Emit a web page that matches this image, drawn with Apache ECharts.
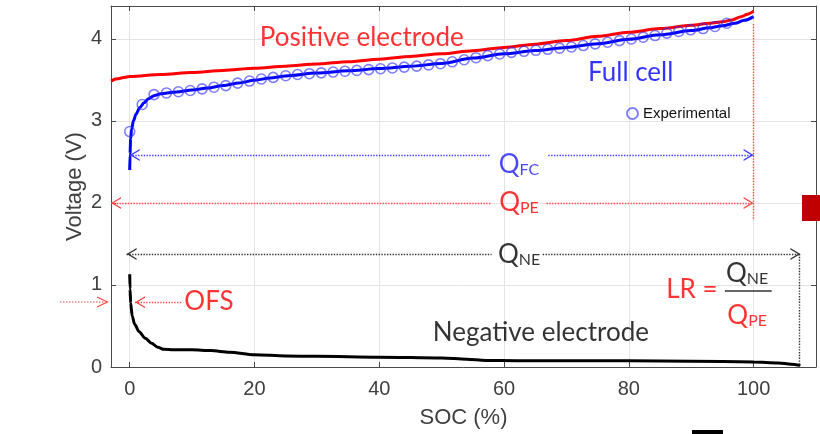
<!DOCTYPE html>
<html>
<head>
<meta charset="utf-8">
<script src="https://cdn.jsdelivr.net/npm/echarts@6/dist/echarts.min.js"></script>
<style>
  html, body { margin: 0; padding: 0; background: #fff; }
  #chart { width: 820px; height: 434px; }
</style>
</head>
<body>
<div id="chart"></div>
<script>
// axis ticks
var xTicks = [0, 20, 40, 60, 80, 100];
var yTicks = [0, 1, 2, 3, 4];

// positive electrode (model)
var posSoc = [-3, -2, -1, 0, 5, 10, 15, 20, 25, 30, 35, 40, 45, 50, 55, 60, 65, 70, 75, 80, 85, 90, 93, 95, 96.5, 98, 99, 100];
var posV = [3.485, 3.512, 3.528, 3.54, 3.565, 3.59, 3.615, 3.642, 3.667, 3.693, 3.722, 3.752, 3.785, 3.818, 3.855, 3.895, 3.935, 3.98, 4.03, 4.08, 4.125, 4.165, 4.19, 4.208, 4.23, 4.27, 4.3, 4.335];

// full cell (model)
var fcSoc = [0, 0.05, 0.15, 0.3, 0.6, 1.0, 1.6, 2.3, 3.0, 4.0, 5, 7.5, 10, 12.5, 15, 17.5, 20, 22.5, 25, 30, 35, 40, 45, 50, 55, 60, 65, 70, 75, 80, 85, 90, 93, 95, 97, 98.5, 100];
var fcV = [2.40, 2.6, 2.78, 2.9, 3.0, 3.08, 3.16, 3.22, 3.27, 3.31, 3.33, 3.353, 3.375, 3.40, 3.43, 3.462, 3.495, 3.522, 3.547, 3.582, 3.61, 3.637, 3.665, 3.70, 3.765, 3.818, 3.857, 3.895, 3.94, 3.995, 4.05, 4.1, 4.135, 4.16, 4.19, 4.225, 4.27];

// full cell (experimental)
var expSoc = [0, 2.0, 3.9, 5.9, 7.8, 9.7, 11.6, 13.5, 15.4, 17.3, 19.2, 21.1, 23.0, 25.0, 26.9, 28.8, 30.7, 32.6, 34.5, 36.4, 38.3, 40.2, 42.1, 44.0, 46.0, 47.9, 49.8, 51.7, 53.6, 55.5, 57.4, 59.3, 61.2, 63.2, 65.1, 67.0, 68.9, 70.8, 72.7, 74.6, 76.6, 78.5, 80.4, 82.3, 84.2, 86.1, 88.0, 89.9, 91.9, 93.8, 95.7];
var expV = [2.87, 3.20, 3.32, 3.34, 3.355, 3.37, 3.39, 3.41, 3.43, 3.46, 3.485, 3.51, 3.53, 3.55, 3.565, 3.575, 3.585, 3.595, 3.605, 3.615, 3.625, 3.635, 3.645, 3.655, 3.667, 3.682, 3.697, 3.72, 3.745, 3.77, 3.795, 3.815, 3.835, 3.848, 3.86, 3.872, 3.886, 3.9, 3.918, 3.938, 3.958, 3.978, 3.998, 4.02, 4.04, 4.07, 4.09, 4.11, 4.125, 4.15, 4.19];

// negative electrode (model)
var negSoc = [0, 0.05, 0.15, 0.4, 0.8, 1.5, 2.5, 3.5, 4.5, 5.5, 7, 10, 13, 16, 20, 25, 30, 40, 50, 54, 57, 62, 70, 80, 90, 100, 104, 106, 107.5];
var negV = [1.13, 0.95, 0.78, 0.62, 0.52, 0.43, 0.35, 0.29, 0.24, 0.215, 0.21, 0.21, 0.20, 0.18, 0.15, 0.135, 0.13, 0.12, 0.11, 0.095, 0.08, 0.077, 0.077, 0.075, 0.07, 0.062, 0.05, 0.035, 0.02];

function pairs(xs, ys) {
  return xs.map(function (x, i) { return [x, ys[i]]; });
}

var chevron = 'path://M0,0 L6,10 L4.5,10 L0,2.5 L-4.5,10 L-6,10 Z';

// one guide segment, arrow heads optional at each end
function guide(a, b, arrowA, arrowB, style) {
  return [
    { coord: a, symbol: arrowA ? chevron : 'none', symbolSize: [12, 10], symbolOffset: [0, 5], lineStyle: style },
    { coord: b, symbol: arrowB ? chevron : 'none', symbolSize: [12, 10], symbolOffset: [0, 5] }
  ];
}

function guides(color, lines) {
  return {
    silent: true,
    animation: false,
    label: { show: false },
    emphasis: { disabled: true },
    lineStyle: { color: color, type: 'dotted', width: 1.4 },
    data: lines
  };
}

var axisColor = '#4a4a4a';
var tickText = { fontFamily: 'Liberation Sans', fontSize: 20, color: '#404040' };
var rich = {
  q: { fontFamily: 'Lato', fontSize: 26, lineHeight: 30, verticalAlign: 'bottom' },
  s: { fontFamily: 'Lato', fontSize: 16, lineHeight: 14, verticalAlign: 'bottom' }
};

function note(x, y, text, color) {
  return {
    value: [x, y],
    label: { show: true, position: 'inside', formatter: text, color: color, fontFamily: 'Lato', fontSize: 26, rich: rich }
  };
}

var chart = echarts.init(document.getElementById('chart'));

var option = {
  animation: false,
  grid: { left: 111, right: 4, top: 6, bottom: 67 },
  legend: {
    data: ['Experimental'],
    left: 621,
    top: 101,
    itemWidth: 11,
    itemHeight: 11,
    textStyle: { fontFamily: 'Liberation Sans', fontSize: 15, color: '#111' }
  },
  xAxis: [
    {
      type: 'value', min: -3, max: 110, position: 'bottom',
      name: 'SOC (%)', nameLocation: 'middle', nameGap: 40, nameMoveOverlap: false,
      nameTextStyle: { fontFamily: 'Liberation Sans', fontSize: 22, color: '#404040' },
      axisLine: { show: true, onZero: false, lineStyle: { color: axisColor, width: 1 } },
      axisTick: { show: true, inside: true, length: 5, customValues: xTicks, lineStyle: { color: axisColor } },
      axisLabel: Object.assign({ customValues: xTicks, margin: 12 }, tickText),
      splitLine: { show: true, lineStyle: { color: '#e4e4e4', width: 1 } }
    },
    {
      type: 'value', min: -3, max: 110, position: 'top',
      axisLine: { show: true, onZero: false, lineStyle: { color: axisColor, width: 1 } },
      axisTick: { show: true, inside: true, length: 5, customValues: xTicks, lineStyle: { color: axisColor } },
      axisLabel: { show: false },
      splitLine: { show: false }
    }
  ],
  yAxis: [
    {
      type: 'value', min: 0, max: 4.4, position: 'left',
      name: 'Voltage (V)', nameLocation: 'middle', nameGap: 25, nameMoveOverlap: false,
      nameTextStyle: { fontFamily: 'Liberation Sans', fontSize: 22, color: '#404040' },
      axisLine: { show: true, onZero: false, lineStyle: { color: axisColor, width: 1 } },
      axisTick: { show: true, inside: true, length: 5, customValues: yTicks, lineStyle: { color: axisColor } },
      axisLabel: Object.assign({ customValues: yTicks, margin: 9 }, tickText),
      splitLine: { show: true, lineStyle: { color: '#e4e4e4', width: 1 } }
    },
    {
      type: 'value', min: 0, max: 4.4, position: 'right',
      axisLine: { show: true, onZero: false, lineStyle: { color: axisColor, width: 1 } },
      axisTick: { show: true, inside: true, length: 5, customValues: yTicks, lineStyle: { color: axisColor } },
      axisLabel: { show: false },
      splitLine: { show: false }
    }
  ],
  series: [
    {
      name: 'Positive electrode',
      type: 'line',
      data: pairs(posSoc, posV),
      showSymbol: false,
      smooth: 0.3,
      smoothMonotone: 'x',
      lineStyle: { color: '#ff0000', width: 3 },
      itemStyle: { color: '#ff0000' },
      markLine: guides('#ff4a4a', [
        guide([-3, 2.0], [57.8, 2.0], true, false),
        guide([66.8, 2.0], [100, 2.0], false, true),
        guide([100, 4.18], [100, 1.79], false, false),
        guide([0.85, 0.79], [8.3, 0.79], true, false)
      ])
    },
    {
      name: 'Full cell',
      type: 'line',
      data: pairs(fcSoc, fcV),
      showSymbol: false,
      smooth: 0.3,
      smoothMonotone: 'x',
      lineStyle: { color: '#0000ff', width: 3 },
      itemStyle: { color: '#0000ff' },
      markLine: guides('#3c3cff', [
        guide([0, 2.584], [57.8, 2.584], true, false),
        guide([67.1, 2.584], [100, 2.584], false, true)
      ])
    },
    {
      name: 'Experimental',
      type: 'scatter',
      data: pairs(expSoc, expV),
      symbol: 'circle',
      symbolSize: 10,
      itemStyle: { color: 'rgba(0,0,0,0)', borderColor: 'rgba(40,40,255,0.75)', borderWidth: 1.6 },
      z: 3
    },
    {
      name: 'Negative electrode',
      type: 'line',
      data: pairs(negSoc, negV),
      showSymbol: false,
      smooth: 0.3,
      smoothMonotone: 'x',
      lineStyle: { color: '#000000', width: 3 },
      itemStyle: { color: '#000000' },
      markLine: guides('#333333', [
        guide([-0.5, 1.377], [58, 1.377], true, false),
        guide([66.2, 1.377], [107.5, 1.377], false, true),
        guide([107.3, 1.377], [107.3, 0.03], false, false),
        guide([95.4, 0.926], [102.9, 0.926], false, false, { type: 'solid', width: 1.6, color: '#333333' })
      ])
    },
    {
      name: 'notes',
      type: 'scatter',
      symbolSize: 0,
      silent: true,
      z: 6,
      data: [
        note(37.2, 4.016, 'Positive electrode', '#ff0000'),
        note(80.3, 3.583, 'Full cell', '#0000ff'),
        note(65.9, 0.414, 'Negative electrode', '#000000'),
        note(12.7, 0.792, 'OFS', '#ff0000'),
        note(90.1, 0.938, 'LR =', '#ff0000'),
        note(62.4, 2.486, '{q|Q}{s|FC}', '#1a1aff'),
        note(62.4, 2.023, '{q|Q}{s|PE}', '#ff0000'),
        note(62.4, 1.389, '{q|Q}{s|NE}', '#000000'),
        note(98.97, 1.158, '{q|Q}{s|NE}', '#000000'),
        note(98.97, 0.646, '{q|Q}{s|PE}', '#ff0000')
      ]
    }
  ],
  graphic: [
    // OFS arrow outside the axes
    { type: 'line', silent: true, z: 100, shape: { x1: 60, y1: 302, x2: 107, y2: 302 }, style: { stroke: '#ff4a4a', lineWidth: 1.2, lineDash: [1.5, 1.5] } },
    { type: 'polyline', silent: true, z: 100, shape: { points: [[97, 297], [107.5, 302], [97, 307]] }, style: { stroke: '#ff4a4a', lineWidth: 1.2, fill: null } },
    { type: 'rect', silent: true, z: 100, shape: { x: 802, y: 195, width: 18, height: 26 }, style: { fill: '#c00000' } },
    { type: 'rect', silent: true, z: 100, shape: { x: 692, y: 430, width: 31, height: 4 }, style: { fill: '#000000' } }
  ]
};

chart.setOption(option);
</script>
</body>
</html>
